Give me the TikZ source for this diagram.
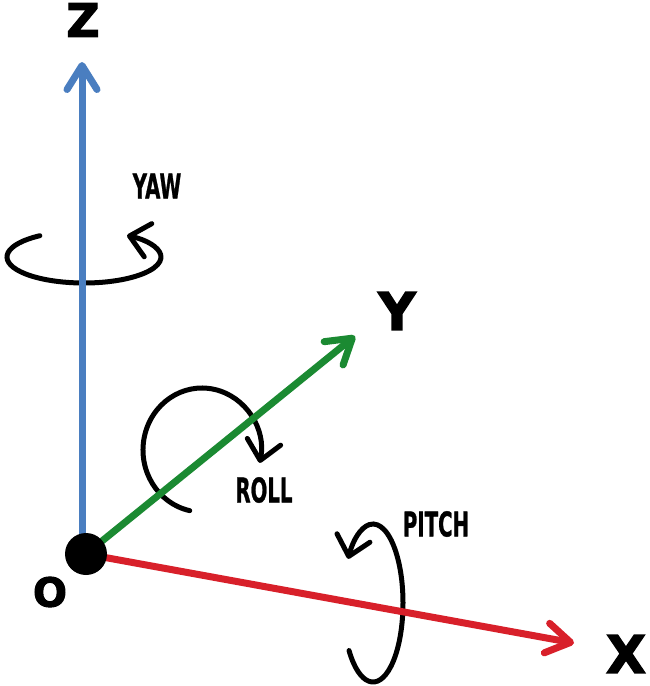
\documentclass[tikz,border=0pt]{standalone}
\usepackage{fontspec}
\setmainfont{DejaVu Sans}
\newfontfamily\heavyfont[FakeBold=2.5]{DejaVu Sans}
\newfontfamily\labfont[FakeBold=1.2]{DejaVu Sans}
\usetikzlibrary{arrows.meta}
\definecolor{zblue}{HTML}{4A7EC0}
\definecolor{ygreen}{HTML}{1B8A32}
\definecolor{xred}{HTML}{D8202A}
\tikzset{
  axis/.style={line width=7pt, line cap=round, -{Straight Barb[length=24pt,width=30pt,round]}},
  rot/.style={line width=5pt, line cap=round, -{Straight Barb[length=19pt,width=34pt,round]}},
  big/.style={inner sep=0pt},
  small/.style={inner sep=0pt, font=\labfont\bfseries\fontsize{34}{34}\selectfont},
}
\newcommand{\cond}[1]{\scalebox{0.58}[1]{#1}}
\begin{document}
\begin{tikzpicture}[x=1pt,y=-1pt]
\useasboundingbox (0,0) rectangle (650,686);
% rotation arrows (behind axes)
\draw[rot] (84,257) ++(-125:77 and 26) arc[start angle=-125, end angle=-416, x radius=77, y radius=26];
\draw[rot] (202,450) ++(102:59 and 62) arc[start angle=102, end angle=372, x radius=59, y radius=62];
\draw[rot] (373,603) ++(143:30 and 79) arc[start angle=143, end angle=-146, x radius=30, y radius=79];
% axes
\coordinate (o) at (86,554);
\coordinate (zbase) at (82,548);
\coordinate (ztip) at (82,62);
\coordinate (ytip) at (355,336);
\coordinate (xtip) at (574,643);
\draw[axis, zblue] (zbase) -- (ztip);
\draw[axis, ygreen] (o) -- (ytip);
\draw[axis, xred] (o) -- (xtip);
\node[circle, fill=black, minimum size=42pt, inner sep=0pt] (dot) at (o) {};
% labels
\node[big, font=\heavyfont\bfseries\fontsize{46}{46}\selectfont] (lz) at (83,20) {Z};
\node[big, font=\heavyfont\bfseries\fontsize{52}{52}\selectfont] (ly) at (397,311) {Y};
\node[big, font=\heavyfont\bfseries\fontsize{52}{52}\selectfont] (lx) at (626,654) {X};
\node[big, font=\heavyfont\bfseries\fontsize{40}{40}\selectfont] (lo) at (50,592) {O};
\node[small] (yaw) at (157,186) {\cond{YAW}};
\node[small] (roll) at (264,490) {\cond{ROLL}};
\node[small] (pitch) at (436,524) {\cond{PITCH}};
\end{tikzpicture}
\end{document}
